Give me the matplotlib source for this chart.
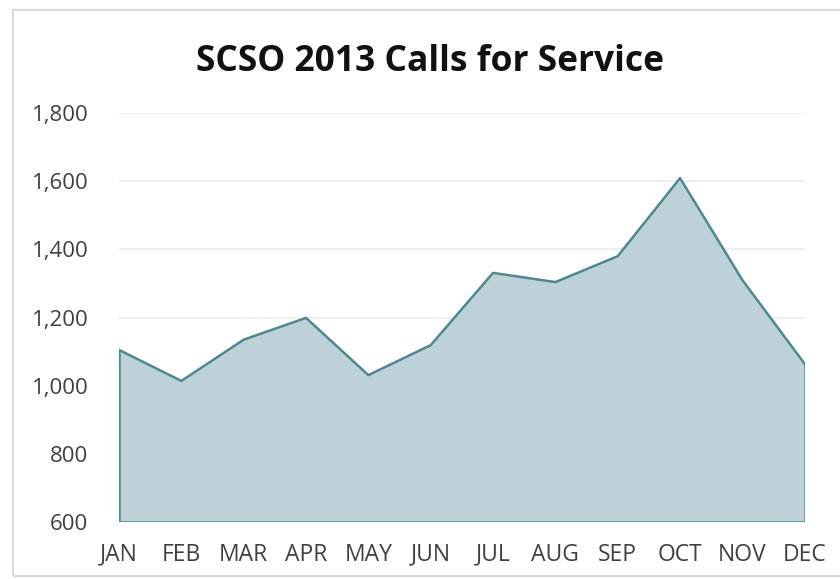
import matplotlib.pyplot as plt
from matplotlib.patches import Rectangle
from matplotlib.ticker import FuncFormatter

plt.rcParams['font.family'] = ['Open Sans', 'DejaVu Sans']

months = ['JAN', 'FEB', 'MAR', 'APR', 'MAY', 'JUN', 'JUL', 'AUG', 'SEP', 'OCT', 'NOV', 'DEC']
calls = [1105, 1014, 1135, 1199, 1031, 1119, 1331, 1304, 1380, 1609, 1310, 1064]
yticks = [600, 800, 1000, 1200, 1400, 1600, 1800]

fig = plt.figure(figsize=(8.4, 5.79), dpi=100)
ax = fig.add_axes([0.1417, 0.0984, 0.8163, 0.7064])

x = list(range(len(months)))
ax.fill_between(x, calls, 600, facecolor='#bdd1d8', edgecolor='none', zorder=2)
ax.plot(x, calls, color='#4d8990', lw=1.8, zorder=3)
ax.plot([0, 0], [600, calls[0]], color='#4d8990', lw=1.8, zorder=3)
ax.plot([11, 11], [600, calls[-1]], color='#4d8990', lw=1.8, zorder=3)
ax.plot([0, 11], [600, 600], color='#4d8990', lw=1.8, zorder=3)

ax.set_xlim(0, 11)
ax.set_ylim(600, 1800)
ax.set_yticks(yticks)
ax.yaxis.set_major_formatter(FuncFormatter(lambda v, p: f'{int(v):,}'))
ax.set_xticks(x)
ax.set_xticklabels(months)
ax.grid(axis='y', color='#ececec', lw=1.2, zorder=0)
for s in ax.spines.values():
    s.set_visible(False)
ax.tick_params(length=0, colors='#404040')
ax.tick_params(axis='y', pad=22, labelsize=16)
ax.tick_params(axis='x', pad=15, labelsize=16.5)

fig.text(0.512, 0.893, 'SCSO 2013 Calls for Service', ha='center', va='center',
         fontsize=25.5, fontweight='bold', color='#111111')

fig.patches.append(Rectangle((13 / 840, 3 / 579), 1.0, 1 - 13 / 579, transform=fig.transFigure,
                             fill=False, edgecolor='#d9d9d9', lw=1.5))

fig.savefig('out.png', dpi=100)
